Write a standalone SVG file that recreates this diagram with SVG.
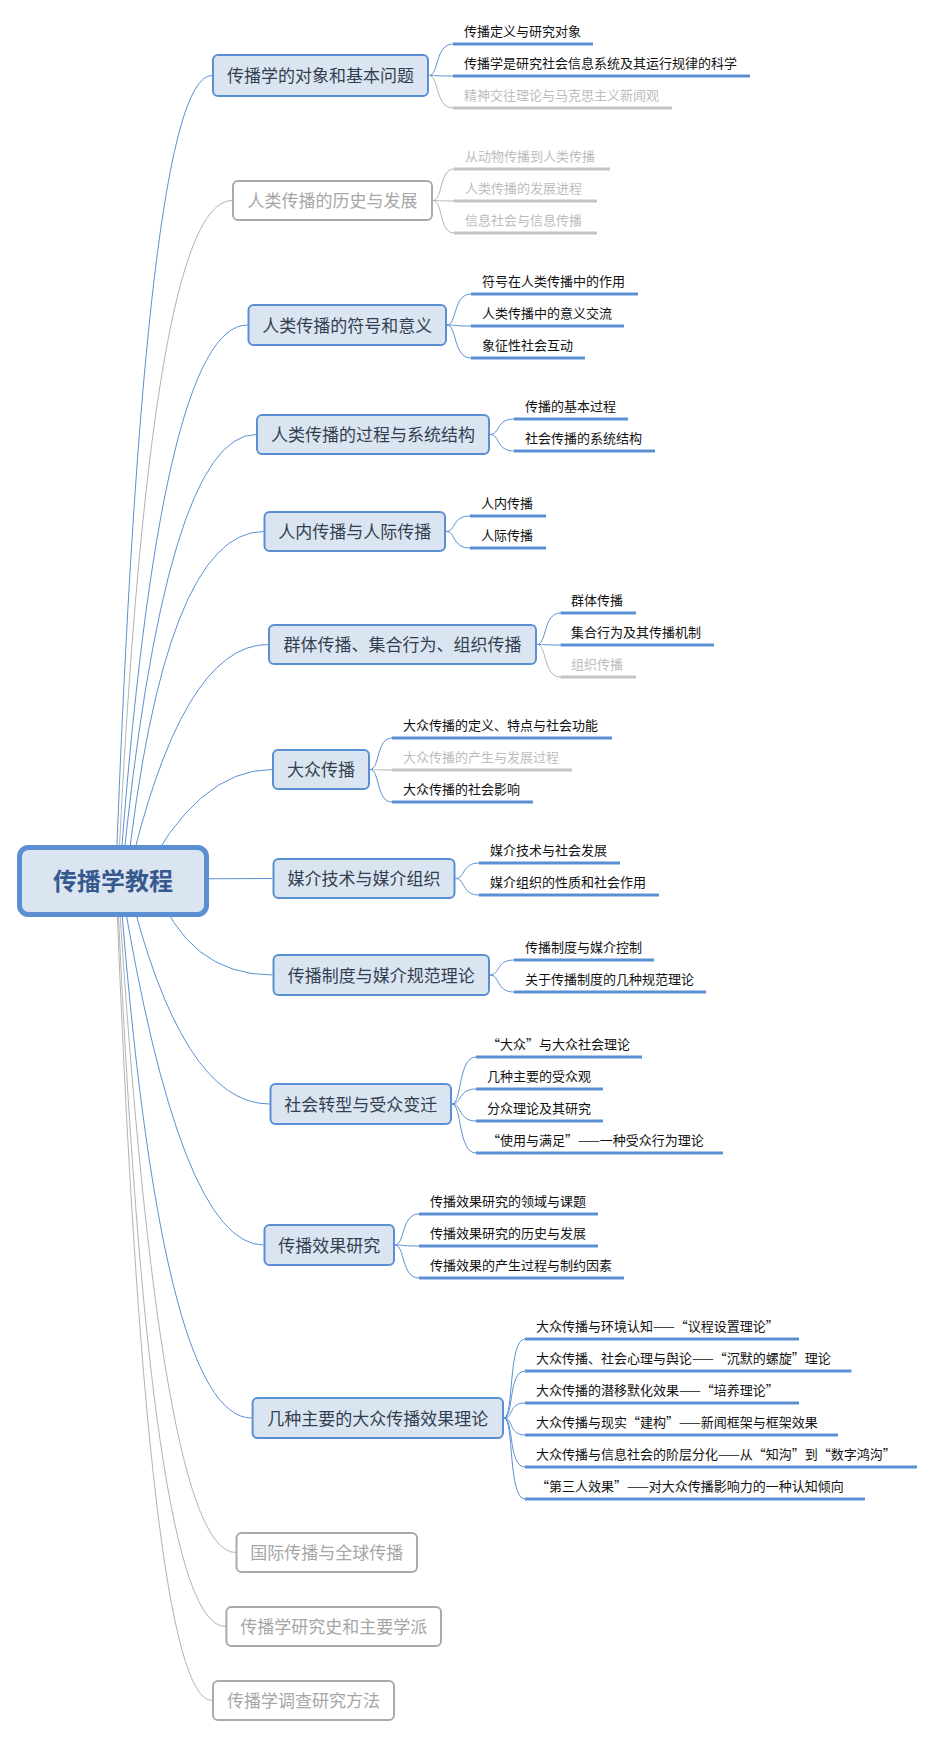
<svg xmlns="http://www.w3.org/2000/svg" width="930" height="1738" viewBox="0 0 930 1738">
<style>
text{font-family:"Noto Sans CJK SC","Microsoft YaHei",sans-serif}
.c{fill:none;stroke:#5b8fd4;stroke-width:1}
.cg{fill:none;stroke:#b3b3b3;stroke-width:1}
.n rect{fill:#dbe5f1;stroke:#5b8fd4;stroke-width:2}
.g rect{fill:#fff;stroke:#aaaaaa;stroke-width:2}
.nt{font-size:17px;fill:#333f50;text-anchor:middle}
.g .nt{fill:#a6a6a6}
.lt{font-size:13px;fill:#111}
.lg{font-size:13px;fill:#bdbdbd}
.u{stroke:#5b8fd4;stroke-width:3}
.ug{stroke:#c4c4c4;stroke-width:3}
</style>
<g id="connectors">
<path class="c" d="M115.6,882 Q145,75.5 212,75.5"/>
<path class="cg" d="M117.7,882 Q150,200.5 232,200.5"/>
<path class="c" d="M119.2,882 Q160,325 247.5,325"/>
<path class="c" d="M121.2,882 Q165,434.5 256,434.5"/>
<path class="c" d="M126,882 Q164,531.5 263.5,531.5"/>
<path class="c" d="M127,882 Q181,644.5 268,644.5"/>
<path class="c" d="M140.7,882 Q196.7,769.5 272,769.5"/>
<path class="c" d="M150,879 L272.5,878.5"/>
<path class="c" d="M154.2,882 Q187.2,975 272.5,975"/>
<path class="c" d="M127.7,882 Q181.4,1104 269.5,1104"/>
<path class="c" d="M120.8,882 Q180,1245 263.5,1245"/>
<path class="c" d="M119.5,882 Q160.6,1418 251.6,1418"/>
<path class="cg" d="M118,882 Q160,1552.5 235.5,1552.5"/>
<path class="cg" d="M117,882 Q149,1626.5 225.4,1626.5"/>
<path class="cg" d="M116,882 Q147.5,1700.5 212,1700.5"/>
<!-- leaf connectors -->
<path class="c" d="M429,75.5 C439,75.5 435,44 453,44"/>
<path class="c" d="M429,75.5 C439,75.5 435,76 453,76"/>
<path class="cg" d="M429,75.5 C439,75.5 435,108 453,108"/>
<path class="cg" d="M433,200.5 C443,200.5 439,169 454,169"/>
<path class="cg" d="M433,200.5 C443,200.5 439,201 454,201"/>
<path class="cg" d="M433,200.5 C443,200.5 439,233 454,233"/>
<path class="c" d="M447,325 C457,325 453,294 471,294"/>
<path class="c" d="M447,325 C457,325 453,326 471,326"/>
<path class="c" d="M447,325 C457,325 453,358 471,358"/>
<path class="c" d="M490,434.5 C500,434.5 496,419 514,419"/>
<path class="c" d="M490,434.5 C500,434.5 496,451 514,451"/>
<path class="c" d="M446,531.5 C456,531.5 452,516 470,516"/>
<path class="c" d="M446,531.5 C456,531.5 452,548 470,548"/>
<path class="c" d="M537,644.5 C547,644.5 543,613 560.5,613"/>
<path class="c" d="M537,644.5 C547,644.5 543,645 560.5,645"/>
<path class="cg" d="M537,644.5 C547,644.5 543,677 560.5,677"/>
<path class="c" d="M370,769.5 C380,769.5 376,738 392,738"/>
<path class="cg" d="M370,769.5 C380,769.5 376,770 392,770"/>
<path class="c" d="M370,769.5 C380,769.5 376,802 392,802"/>
<path class="c" d="M455.5,878.5 C465.5,878.5 461.5,863 479,863"/>
<path class="c" d="M455.5,878.5 C465.5,878.5 461.5,895 479,895"/>
<path class="c" d="M490,975 C500,975 496,960 514,960"/>
<path class="c" d="M490,975 C500,975 496,992 514,992"/>
<path class="c" d="M452,1104 C462,1104 458,1057 476,1057"/>
<path class="c" d="M452,1104 C462,1104 458,1089 476,1089"/>
<path class="c" d="M452,1104 C462,1104 458,1121 476,1121"/>
<path class="c" d="M452,1104 C462,1104 458,1153 476,1153"/>
<path class="c" d="M395,1245 C405,1245 401,1214 419,1214"/>
<path class="c" d="M395,1245 C405,1245 401,1246 419,1246"/>
<path class="c" d="M395,1245 C405,1245 401,1278 419,1278"/>
<path class="c" d="M504,1418 C514,1418 508,1339 525,1339"/>
<path class="c" d="M504,1418 C514,1418 508,1371 525,1371"/>
<path class="c" d="M504,1418 C514,1418 508,1403 525,1403"/>
<path class="c" d="M504,1418 C514,1418 508,1435 525,1435"/>
<path class="c" d="M504,1418 C514,1418 508,1467 525,1467"/>
<path class="c" d="M504,1418 C514,1418 508,1499 525,1499"/>
</g>
<g id="root">
<rect x="19.5" y="847.5" width="187" height="67" rx="9" fill="#dbe5f1" stroke="#5b8fd4" stroke-width="5"/>
<text x="113" y="890" font-size="24" font-weight="bold" fill="#36598e" text-anchor="middle">传播学教程</text>
</g>
<g id="n1" class="n"><rect x="213" y="55" width="215" height="41" rx="5"/><text class="nt" x="320.5" y="82">传播学的对象和基本问题</text>
<line class="u" x1="453" y1="44" x2="593" y2="44"/><text class="lt" x="464" y="36">传播定义与研究对象</text>
<line class="u" x1="453" y1="76" x2="750" y2="76"/><text class="lt" x="464" y="68">传播学是研究社会信息系统及其运行规律的科学</text>
<line class="ug" x1="453" y1="108" x2="672" y2="108"/><text class="lg" x="464" y="100">精神交往理论与马克思主义新闻观</text></g>
<g id="n2" class="g"><rect x="233" y="181" width="199" height="39" rx="5"/><text class="nt" x="332.5" y="207">人类传播的历史与发展</text>
<line class="ug" x1="454" y1="169" x2="610" y2="169"/><text class="lg" x="465" y="161">从动物传播到人类传播</text>
<line class="ug" x1="454" y1="201" x2="597" y2="201"/><text class="lg" x="465" y="193">人类传播的发展进程</text>
<line class="ug" x1="454" y1="233" x2="597" y2="233"/><text class="lg" x="465" y="225">信息社会与信息传播</text></g>
<g id="n3" class="n"><rect x="248.5" y="305" width="197.5" height="40" rx="5"/><text class="nt" x="347.3" y="331.5">人类传播的符号和意义</text>
<line class="u" x1="471" y1="294" x2="638" y2="294"/><text class="lt" x="482" y="286">符号在人类传播中的作用</text>
<line class="u" x1="471" y1="326" x2="624" y2="326"/><text class="lt" x="482" y="318">人类传播中的意义交流</text>
<line class="u" x1="471" y1="358" x2="585" y2="358"/><text class="lt" x="482" y="350">象征性社会互动</text></g>
<g id="n4" class="n"><rect x="257" y="415" width="232" height="39" rx="5"/><text class="nt" x="373" y="441">人类传播的过程与系统结构</text>
<line class="u" x1="514" y1="419" x2="628" y2="419"/><text class="lt" x="525" y="411">传播的基本过程</text>
<line class="u" x1="514" y1="451" x2="655" y2="451"/><text class="lt" x="525" y="443">社会传播的系统结构</text></g>
<g id="n5" class="n"><rect x="264.5" y="512" width="180.5" height="39" rx="5"/><text class="nt" x="354.8" y="538">人内传播与人际传播</text>
<line class="u" x1="470" y1="516" x2="546" y2="516"/><text class="lt" x="481" y="508">人内传播</text>
<line class="u" x1="470" y1="548" x2="546" y2="548"/><text class="lt" x="481" y="540">人际传播</text></g>
<g id="n6" class="n"><rect x="269" y="625" width="267" height="39" rx="5"/><text class="nt" x="402.5" y="651">群体传播、集合行为、组织传播</text>
<line class="u" x1="560.5" y1="613" x2="636" y2="613"/><text class="lt" x="571" y="605">群体传播</text>
<line class="u" x1="560.5" y1="645" x2="714" y2="645"/><text class="lt" x="571" y="637">集合行为及其传播机制</text>
<line class="ug" x1="560.5" y1="677" x2="636" y2="677"/><text class="lg" x="571" y="669">组织传播</text></g>
<g id="n7" class="n"><rect x="273" y="750" width="96" height="39" rx="5"/><text class="nt" x="321" y="776">大众传播</text>
<line class="u" x1="392" y1="738" x2="612" y2="738"/><text class="lt" x="403" y="730">大众传播的定义、特点与社会功能</text>
<line class="ug" x1="392" y1="770" x2="572" y2="770"/><text class="lg" x="403" y="762">大众传播的产生与发展过程</text>
<line class="u" x1="392" y1="802" x2="533" y2="802"/><text class="lt" x="403" y="794">大众传播的社会影响</text></g>
<g id="n8" class="n"><rect x="273.5" y="859" width="181" height="39" rx="5"/><text class="nt" x="364" y="885">媒介技术与媒介组织</text>
<line class="u" x1="479" y1="863" x2="620" y2="863"/><text class="lt" x="490" y="855">媒介技术与社会发展</text>
<line class="u" x1="479" y1="895" x2="659" y2="895"/><text class="lt" x="490" y="887">媒介组织的性质和社会作用</text></g>
<g id="n9" class="n"><rect x="273.5" y="955" width="215.5" height="40" rx="5"/><text class="nt" x="381.3" y="981.5">传播制度与媒介规范理论</text>
<line class="u" x1="514" y1="960" x2="654" y2="960"/><text class="lt" x="525" y="952">传播制度与媒介控制</text>
<line class="u" x1="514" y1="992" x2="706" y2="992"/><text class="lt" x="525" y="984">关于传播制度的几种规范理论</text></g>
<g id="n10" class="n"><rect x="270.5" y="1084" width="180.5" height="40" rx="5"/><text class="nt" x="360.8" y="1110.5">社会转型与受众变迁</text>
<line class="u" x1="476" y1="1057" x2="642" y2="1057"/><text class="lt" x="487" y="1049">“大众”与大众社会理论</text>
<line class="u" x1="476" y1="1089" x2="603" y2="1089"/><text class="lt" x="487" y="1081">几种主要的受众观</text>
<line class="u" x1="476" y1="1121" x2="603" y2="1121"/><text class="lt" x="487" y="1113">分众理论及其研究</text>
<line class="u" x1="476" y1="1153" x2="723" y2="1153"/><text class="lt" x="487" y="1145">“使用与满足”——一种受众行为理论</text></g>
<g id="n11" class="n"><rect x="264.5" y="1225" width="129.5" height="40" rx="5"/><text class="nt" x="329.3" y="1251.5">传播效果研究</text>
<line class="u" x1="419" y1="1214" x2="598" y2="1214"/><text class="lt" x="430" y="1206">传播效果研究的领域与课题</text>
<line class="u" x1="419" y1="1246" x2="598" y2="1246"/><text class="lt" x="430" y="1238">传播效果研究的历史与发展</text>
<line class="u" x1="419" y1="1278" x2="624" y2="1278"/><text class="lt" x="430" y="1270">传播效果的产生过程与制约因素</text></g>
<g id="n12" class="n"><rect x="252.6" y="1398" width="250.4" height="40" rx="5"/><text class="nt" x="377.8" y="1424.5">几种主要的大众传播效果理论</text>
<line class="u" x1="525" y1="1339" x2="799" y2="1339"/><text class="lt" x="536" y="1331">大众传播与环境认知——“议程设置理论”</text>
<line class="u" x1="525" y1="1371" x2="851.5" y2="1371"/><text class="lt" x="536" y="1363">大众传播、社会心理与舆论——“沉默的螺旋”理论</text>
<line class="u" x1="525" y1="1403" x2="799" y2="1403"/><text class="lt" x="536" y="1395">大众传播的潜移默化效果——“培养理论”</text>
<line class="u" x1="525" y1="1435" x2="838" y2="1435"/><text class="lt" x="536" y="1427">大众传播与现实“建构”——新闻框架与框架效果</text>
<line class="u" x1="525" y1="1467" x2="917" y2="1467"/><text class="lt" x="536" y="1459">大众传播与信息社会的阶层分化——从“知沟”到“数字鸿沟”</text>
<line class="u" x1="525" y1="1499" x2="865" y2="1499"/><text class="lt" x="536" y="1491">“第三人效果”——对大众传播影响力的一种认知倾向</text></g>
<g id="n13" class="g"><rect x="236.5" y="1533" width="180.5" height="39" rx="5"/><text class="nt" x="326.8" y="1559">国际传播与全球传播</text></g>
<g id="n14" class="g"><rect x="226.4" y="1607" width="214.6" height="39" rx="5"/><text class="nt" x="333.7" y="1633">传播学研究史和主要学派</text></g>
<g id="n15" class="g"><rect x="213" y="1681" width="181" height="39" rx="5"/><text class="nt" x="303.5" y="1707">传播学调查研究方法</text></g>
</svg>
